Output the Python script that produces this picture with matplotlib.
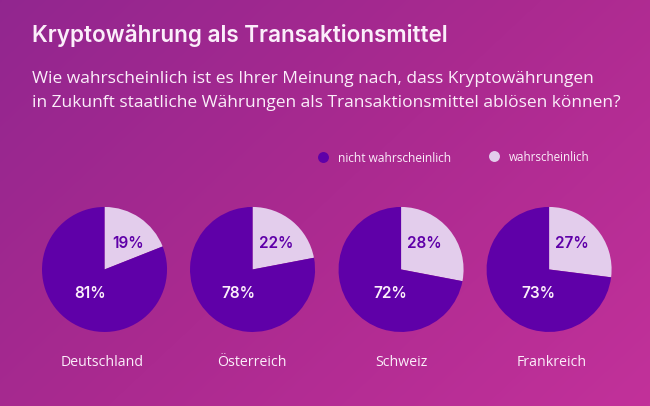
import numpy as np
import matplotlib
matplotlib.use('Agg')
import matplotlib.pyplot as plt
from matplotlib.colors import LinearSegmentedColormap

W = 650
H = 406

countries = ["Deutschland", "Österreich", "Schweiz", "Frankreich"]
wahrscheinlich = [19, 22, 28, 27]
nicht_wahrscheinlich = [81, 78, 72, 73]
series_names = ["nicht wahrscheinlich", "wahrscheinlich"]

DARK = "#5f00a8"
LIGHT = "#e3cdec"
TEXT = "#fbeefa"


def px_axes(fig, cx, cy, r):
    # pixel box (y from top) to figure fractions
    return fig.add_axes([(cx - r) / W, 1 - (cy + r) / H, 2 * r / W, 2 * r / H])


fig = plt.figure(figsize=((W + 0.1) / 100, (H + 0.1) / 100), dpi=100)

# background gradient
bg = fig.add_axes([0, 0, 1, 1])
xx, yy = np.meshgrid(np.linspace(0, 1, W), np.linspace(0, 1, H))
grad = (0.6 * xx + 0.4 * yy)
cmap = LinearSegmentedColormap.from_list("bg", ["#92268f", "#ab2a90", "#c2319a"])
bg.imshow(grad, cmap=cmap, aspect='auto', extent=[0, W, H, 0], vmin=0, vmax=1)
bg.set_xlim(0, W)
bg.set_ylim(H, 0)
bg.axis('off')

bg.text(32, 35.5, "Kryptowährung als Transaktionsmittel", family="Inter", fontsize=16.2,
        fontweight='semibold', color=TEXT, va='center', ha='left')
bg.text(32, 78.5, "Wie wahrscheinlich ist es Ihrer Meinung nach, dass Kryptowährungen",
        family="Open Sans", fontsize=12.55, color=TEXT, va='center', ha='left')
bg.text(32, 102.5, "in Zukunft staatliche Währungen als Transaktionsmittel ablösen können?",
        family="Open Sans", fontsize=12.5, color=TEXT, va='center', ha='left')

# legend
bg.scatter([323], [157], s=62, color=DARK, linewidths=0)
bg.text(338, 158.5, series_names[0], family="Open Sans", fontsize=8.6, color=TEXT, va='center')
bg.scatter([494], [156], s=62, color=LIGHT, linewidths=0)
bg.text(509, 157.5, series_names[1], family="Open Sans", fontsize=8.4, color=TEXT, va='center')

centers = [104.5, 252.5, 401, 549]
label_x = [102, 251.5, 401, 551.5]
light_dx = [24, 24, 23, 23]
dark_dx = [-14, -14, -11, -11]
for i, cx in enumerate(centers):
    ax = px_axes(fig, cx, 269.5, 62.5)
    ax.pie([wahrscheinlich[i], nicht_wahrscheinlich[i]], colors=[LIGHT, DARK],
           startangle=90, counterclock=False, radius=1)
    ax.set_xlim(-1, 1)
    ax.set_ylim(-1, 1)
    ax.patch.set_alpha(0)
    ax.text(light_dx[i] / 62.5, (269.5 - 243) / 62.5, f"{wahrscheinlich[i]}%", family="Inter",
            fontsize=11, fontweight='semibold', color=DARK, ha='center', va='center')
    ax.text(dark_dx[i] / 62.5, (269.5 - 293.5) / 62.5, f"{nicht_wahrscheinlich[i]}%", family="Inter",
            fontsize=11, fontweight='semibold', color=TEXT, ha='center', va='center')
    bg.text(label_x[i], 362, countries[i], family="Open Sans", fontsize=10.2, color=TEXT,
            ha='center', va='center')

fig.savefig("out.png", dpi=100)
